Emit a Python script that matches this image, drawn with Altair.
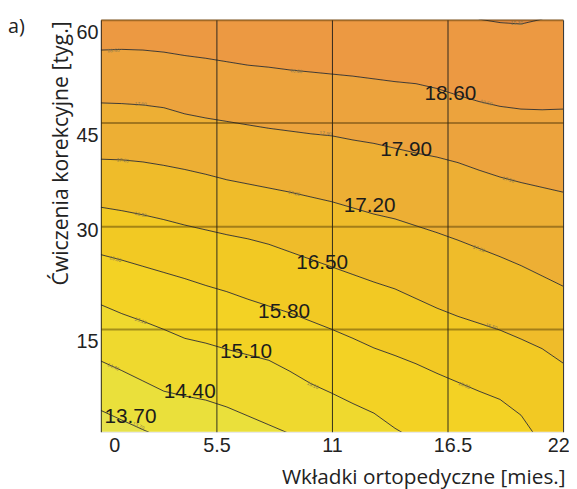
import math
import altair as alt
import pandas as pd

# ---------------- data ----------------
X_GRID = [0, 1, 2, 3, 4, 5, 6, 7, 8, 9, 10, 11, 12, 13, 14, 15, 16, 17, 18, 19, 20, 21, 22]

LEVELS = ["13.70", "14.40", "15.10", "15.80", "16.50", "17.20", "17.90", "18.60", "19.30"]

# y position (weeks) of every contour at each x of X_GRID (values beyond the frame are clipped)
C_1370 = [3.1, 1.7, 0.3, -1.0, -5, -5, -5, -5, -5, -5, -5, -5, -5, -5, -5, -5, -5, -5, -5, -5, -5, -5, -5]
C_1440 = [10.3, 8.9, 7.4, 5.9, 5.2, 4.6, 3.6, 2.3, 1.0, -0.3, -1.6, -5, -5, -5, -5, -5, -5, -5, -5, -5, -5, -5, -5]
C_1510 = [18.5, 17.2, 16.1, 14.9, 13.6, 12.9, 12.0, 11.2, 10.4, 8.8, 7.0, 5.6, 4.1, 2.7, 0.5, -1.3, -5, -5, -5, -5, -5, -5, -5]
C_1580 = [25.8, 25.0, 24.1, 23.2, 22.3, 21.3, 20.4, 19.3, 18.3, 17.3, 16.1, 14.9, 13.6, 12.2, 11.1, 9.9, 8.5, 7.2, 5.9, 4.7, 2.4, -2.0, -5]
C_1650 = [32.7, 32.2, 31.6, 30.9, 30.1, 29.4, 28.7, 28.1, 27.3, 26.2, 25.1, 24.0, 22.9, 21.8, 20.8, 19.4, 18.0, 16.8, 15.8, 14.8, 13.5, 12.1, 10.0]
C_1720 = [39.7, 39.6, 39.3, 38.8, 38.2, 37.5, 36.7, 36.1, 35.5, 34.9, 34.2, 33.5, 32.6, 31.7, 31.0, 30.0, 29.0, 27.9, 26.7, 25.5, 24.2, 22.7, 21.2]
C_1790 = [47.9, 47.8, 47.6, 47.2, 46.3, 45.7, 45.2, 44.7, 44.2, 43.8, 43.4, 43.1, 42.5, 42.0, 41.3, 40.6, 40.0, 39.2, 38.1, 37.1, 36.3, 35.6, 34.9]
C_1860 = [55.6, 55.7, 55.6, 55.3, 54.8, 54.4, 53.9, 53.4, 53.1, 52.7, 52.4, 52.1, 51.8, 51.4, 51.0, 50.7, 50.0, 49.0, 48.1, 47.4, 47.0, 46.9, 47.0]
C_1930 = [63, 63, 63, 63, 63, 63, 63, 63, 63, 63, 63, 63, 63, 63, 63, 63, 63, 63, 60.1, 59.6, 59.4, 60.1, 63]

BAND_NAMES = ["<13.70", "13.70-14.40", "14.40-15.10", "15.10-15.80", "15.80-16.50",
              "16.50-17.20", "17.20-17.90", "17.90-18.60", "18.60-19.30", ">19.30"]
BAND_COLORS = ["#E6E24C", "#EAE03B", "#EFD92E", "#F3D224", "#F2C923",
               "#EFBC2A", "#EDAF34", "#ECA33D", "#EC9942", "#EC9143"]

# large contour labels (centre positions)
LABEL_TEXT = ["13.70", "14.40", "15.10", "15.80", "16.50", "17.20", "17.90", "18.60"]
LABEL_X = [1.41, 4.23, 6.91, 8.72, 10.53, 12.79, 14.53, 16.64]
LABEL_Y = [2.06, 5.8, 11.55, 17.5, 24.5, 32.8, 41.1, 49.25]

# tiny inline contour labels
SMALL_TEXT = ["18.60", "18.60", "18.60", "17.90", "17.90", "17.90", "17.20", "17.20", "17.20",
              "16.50", "16.50", "15.80", "15.80", "15.10", "15.10", "14.40", "13.70", "19.30"]
SMALL_X = [0.6, 9.3, 18.35, 1.9, 10.7, 19.4, 1.05, 9.2, 18.0, 1.9, 18.6, 0.7, 17.3, 1.9, 10.1, 0.6, 1.8, 19.8]
SMALL_Y = [55.6, 52.6, 48.0, 47.8, 43.5, 36.8, 39.6, 34.8, 26.7, 31.7, 15.4, 25.2, 6.8, 16.2, 6.8, 9.5, 0.9, 59.5]

X_TICKS = [0, 5.5, 11, 16.5, 22]
Y_TICKS = [15, 30, 45, 60]
X_TITLE = "Wkładki ortopedyczne [mies.]"
Y_TITLE = "Ćwiczenia korekcyjne [tyg.]"
PANEL = "a)"

# ---------------- tables ----------------
CONTOURS = [C_1370, C_1440, C_1510, C_1580, C_1650, C_1720, C_1790, C_1860, C_1930]

line_rows = []
for lev, ys in zip(LEVELS, CONTOURS):
    for x, y in zip(X_GRID, ys):
        line_rows.append({"x": x, "y": y, "level": lev})
lines_df = pd.DataFrame(line_rows)

band_rows = []
for b, name in enumerate(BAND_NAMES):
    lo = [-10] * len(X_GRID) if b == 0 else CONTOURS[b - 1]
    hi = [70] * len(X_GRID) if b == len(CONTOURS) else CONTOURS[b]
    for x, l, h in zip(X_GRID, lo, hi):
        band_rows.append({"x": x, "lo": l, "hi": h, "band": name})
bands_df = pd.DataFrame(band_rows)

labels_df = pd.DataFrame({"x": LABEL_X, "y": LABEL_Y, "text": LABEL_TEXT})

W, H = 468, 417
SX, SY = W / 22.0, H / 60.0
small_angles = []
for t, x in zip(SMALL_TEXT, SMALL_X):
    ys = CONTOURS[LEVELS.index(t)]
    i = min(int(x), len(X_GRID) - 2)
    ang = math.degrees(math.atan2(-(ys[i + 1] - ys[i]) * SY, SX))
    if t == "19.30":
        ang = 0.0
    small_angles.append(ang % 360)
small_df = pd.DataFrame({"x": SMALL_X, "y": SMALL_Y, "text": SMALL_TEXT, "angle": small_angles})

# ---------------- scales & axes ----------------
x_scale = alt.Scale(domain=[0, 22], nice=False, zero=False)
y_scale = alt.Scale(domain=[0, 60], nice=False, zero=False)

x_axis = alt.Axis(
    values=X_TICKS, labelExpr="'' + datum.value", title=X_TITLE,
    grid=True, gridColor="#1a1a1a", gridWidth=1, gridOpacity=0.9,
    ticks=False, tickSize=0, domain=False,
    labelFont="Liberation Sans", labelFontSize=20, labelColor="#222222",
    labelBaseline="alphabetic", labelPadding=20.5, labelFlush=False, labelOverlap=False,
    labelOffset={"condition": [{"test": "datum.value === 0", "value": 13.5},
                               {"test": "datum.value === 16.5", "value": 5},
                               {"test": "datum.value === 22", "value": -5}],
                 "value": 0},
    titleFont="Open Sans", titleFontSize=21, titleFontWeight="normal", titleColor="#222222",
    titleAlign="right", titleBaseline="alphabetic", titleX=470, titleY=52,
    zindex=1,
)
y_axis = alt.Axis(
    values=Y_TICKS, labelExpr="'' + datum.value", title=Y_TITLE,
    grid=True, gridColor="#3c2800", gridWidth=2, gridOpacity=0.42,
    ticks=False, tickSize=0, domain=False,
    labelFont="Liberation Sans", labelFontSize=20, labelColor="#222222",
    labelPadding=3, labelFlush=False, labelOverlap=False,
    labelOffset={"condition": {"test": "datum.value === 30", "value": 4.5}, "value": 13},
    titleFont="Open Sans", titleFontSize=21.5, titleFontWeight="normal", titleColor="#222222",
    titleAngle=270, titleAlign="right", titleBaseline="alphabetic", titleX=-34, titleY=1,
    zindex=1,
)

X = lambda f: alt.X(f, type="quantitative", scale=x_scale, axis=x_axis)
Y = lambda f: alt.Y(f, type="quantitative", scale=y_scale, axis=y_axis, stack=None)

bands = alt.Chart(bands_df).mark_area(clip=True, interpolate="linear").encode(
    x=X("x"), y=Y("lo"), y2="hi",
    color=alt.Color("band:N", scale=alt.Scale(domain=BAND_NAMES, range=BAND_COLORS), legend=None),
)

lines = alt.Chart(lines_df).mark_line(clip=True, color="#2a2a2a", strokeWidth=0.9).encode(
    x=X("x"), y=Y("y"), detail="level:N",
)

small = alt.Chart(small_df).mark_text(
    font="Liberation Sans", fontSize=5, color="#8a7a50", align="center", baseline="middle"
).encode(x=X("x"), y=Y("y"), text="text:N", angle=alt.Angle("angle:Q", scale=None))

big = alt.Chart(labels_df).mark_text(
    font="Liberation Sans", fontSize=21, color="#1c1c1c", align="center", baseline="middle"
).encode(x=X("x"), y=Y("y"), text="text:N")

chart = alt.layer(bands, lines, small, big).properties(
    width=W, height=H,
    title=alt.TitleParams(PANEL, anchor="start", frame="group", dx=-94, dy=33, offset=0,
                          baseline="alphabetic", font="Open Sans", fontSize=20,
                          fontWeight="normal", color="#222222"),
    autosize=alt.AutoSizeParams(type="none"),
    padding={"left": 94, "top": 9, "right": 6, "bottom": 55},
).configure_view(stroke="#222222", strokeWidth=1).configure(background="white")

chart.save("out.html", embed_options={"renderer": "svg", "actions": False})
